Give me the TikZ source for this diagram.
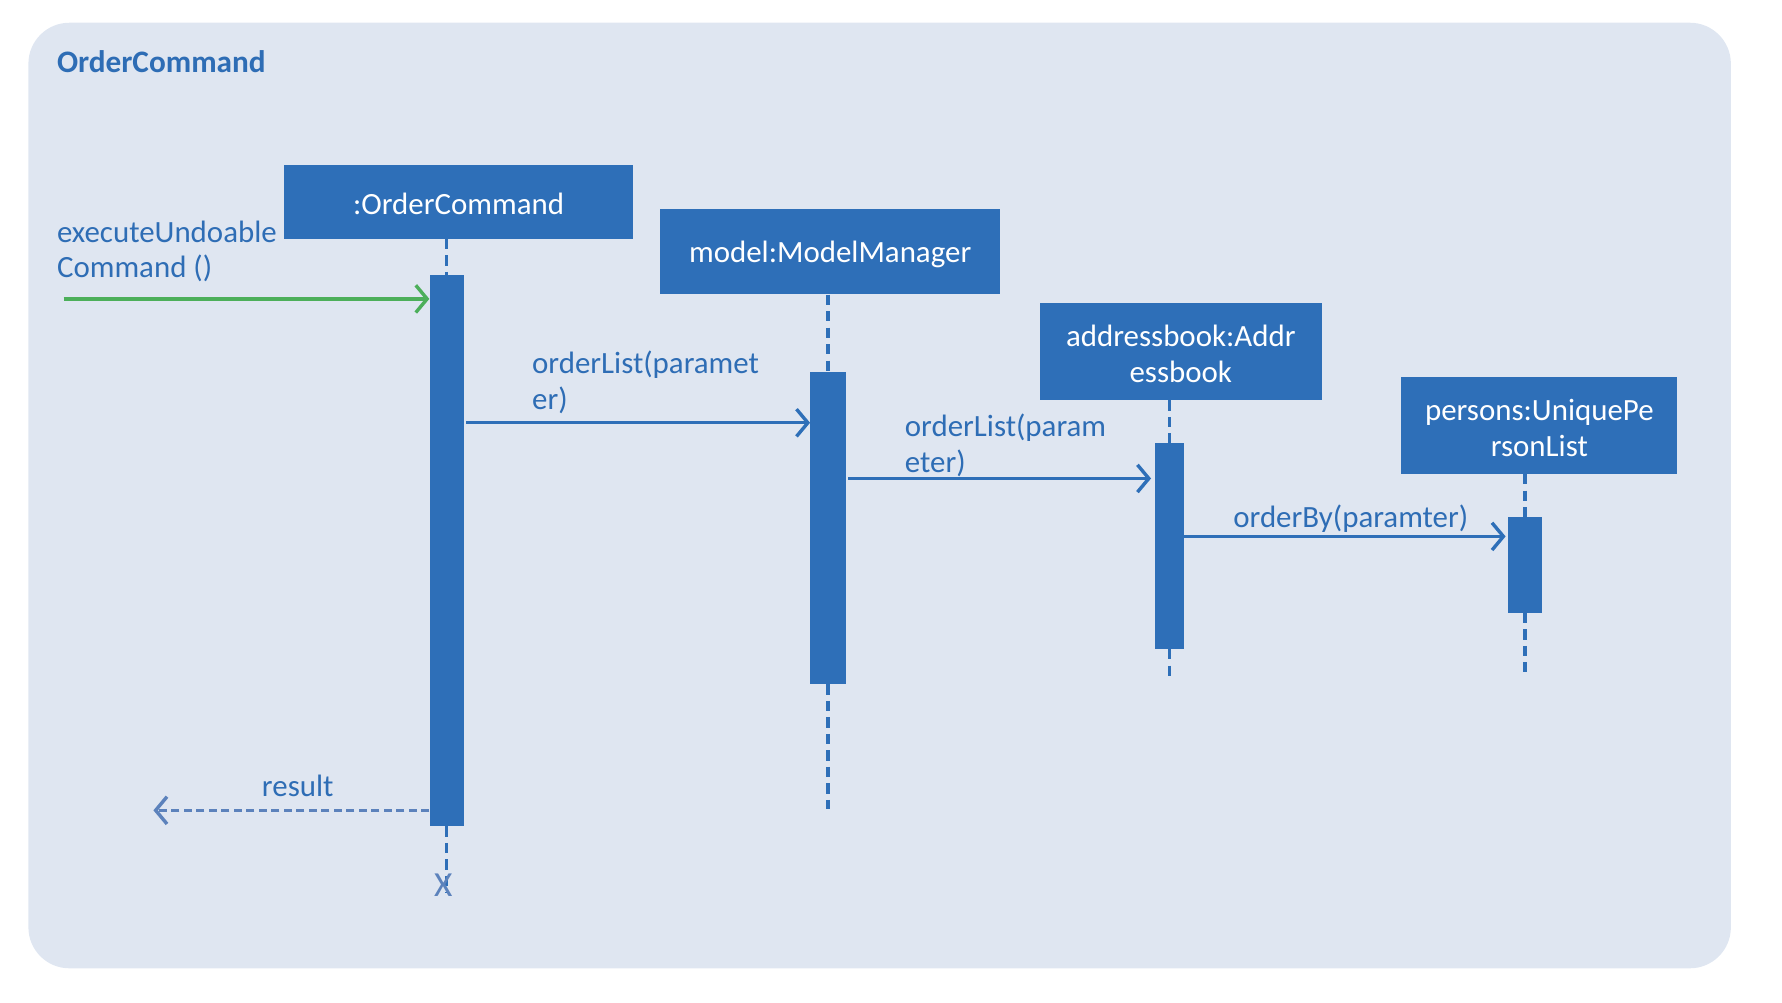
\documentclass[tikz,border=0pt]{standalone}
\usepackage{fontspec}
\setmainfont{Carlito}
\usetikzlibrary{arrows.meta}
\definecolor{bgc}{HTML}{DFE6F1}
\definecolor{boxc}{HTML}{2E6FB8}
\definecolor{txtc}{HTML}{2E6DB5}
\definecolor{grn}{HTML}{4CAF5A}
\definecolor{retc}{HTML}{5C82BC}
\tikzset{
  lifebox/.style={fill=boxc, draw=none, inner sep=0pt},
  lifetext/.style={text=white, align=center, inner sep=0pt, yshift=-2pt,
    font=\fontsize{27.2}{31.5}\selectfont},
  actbar/.style={fill=boxc, draw=none, inner sep=0pt},
  lifeline/.style={draw=boxc, line width=3pt, dash pattern=on 9pt off 5.5pt},
  msg/.style={draw=boxc, line width=3pt, -{Straight Barb[length=10pt,width=24pt,line width=3pt]}},
  retmsg/.style={draw=retc, line width=3pt, dash pattern=on 7pt off 4pt, -{Straight Barb[length=10pt,width=24pt,line width=3pt]}},
  lbl/.style={text=txtc, align=left, inner sep=0pt, font=\fontsize{27.2}{31}\selectfont},
}
\begin{document}
\begin{tikzpicture}[x=1pt,y=-1pt]
\useasboundingbox (0,0) rectangle (1568,881.7);
\fill[bgc, rounded corners=36pt] (25,20) rectangle (1523,852);
\node[anchor=base west, text=txtc, inner sep=0pt, font=\fontsize{27.5}{31}\selectfont\bfseries] (title) at (50,64) {OrderCommand};

% lifeline heads
\node[lifebox, minimum width=307pt, minimum height=65pt,
  label={[lifetext]center::OrderCommand}] (oc) at (403.5,177.5) {};
\node[lifebox, minimum width=299pt, minimum height=75pt,
  label={[lifetext]center:model:ModelManager}] (mm) at (730.5,221.5) {};
\node[lifebox, minimum width=248pt, minimum height=85pt,
  label={[lifetext]center:addressbook:Addr\\essbook}] (ab) at (1039,309.5) {};
\node[lifebox, minimum width=243pt, minimum height=85pt,
  label={[lifetext]center:persons:UniquePe\\rsonList}] (pl) at (1354.5,374.5) {};

% activation bars
\node[actbar, minimum width=30pt, minimum height=485pt] (b1) at (393,484.5) {};
\node[actbar, minimum width=31pt, minimum height=275pt] (b2) at (728.5,464.5) {};
\node[actbar, minimum width=26pt, minimum height=181pt] (b3) at (1029,480.5) {};
\node[actbar, minimum width=30pt, minimum height=84pt] (b4) at (1342,497) {};

% lifeline ends
\coordinate (e1) at (393,786);
\coordinate (e2) at (728.5,712);
\coordinate (e3) at (1029,598);
\coordinate (e4) at (1342,597);

\draw[lifeline] (oc.south -| b1.north) -- (b1.north);
\draw[lifeline] (b1.south) -- (e1);
\draw[lifeline] (mm.south -| b2.north) -- (b2.north);
\draw[lifeline] (b2.south) -- (e2);
\draw[lifeline] (ab.south -| b3.north) -- (b3.north);
\draw[lifeline] (b3.south) -- (e3);
\draw[lifeline] (pl.south -| b4.north) -- (b4.north);
\draw[lifeline] (b4.south) -- (e4);

% destruction mark
\node[text=retc, inner sep=0pt, font=\fontsize{31}{34}\selectfont] (x1) at (390,779) {X};

% found message
\coordinate (start) at (56,263);
\draw[draw=grn, line width=3pt, -{Straight Barb[length=10pt,width=24pt,line width=3pt]}] (start) -- (b1.west |- start);
\node[lbl, anchor=base west] (l0) at (50,244) {executeUndoable\\Command ()};

% messages
\coordinate (y1) at (0,372);
\draw[msg] (b1.east |- y1) ++(2,0) -- (b2.west |- y1);
\node[lbl, anchor=base west] (l1) at (468,360) {orderList(paramet\\er)};

\coordinate (y2) at (0,421);
\draw[msg] (b2.east |- y2) ++(2,0) -- ([xshift=-3pt]b3.west |- y2);
\node[lbl, anchor=base west] (l2) at (796,415.5) {orderList(param\\eter)};

\coordinate (y3) at (0,472);
\draw[msg] (b3.east |- y3) -- ([xshift=-2pt]b4.west |- y3);
\node[lbl, anchor=base west] (l3) at (1085,464) {orderBy(paramter)};

% return
\coordinate (r) at (135,713);
\draw[retmsg] (b1.west |- r) -- (r);
\node[lbl, anchor=base] (l4) at (262,701) {result};
\end{tikzpicture}
\end{document}
